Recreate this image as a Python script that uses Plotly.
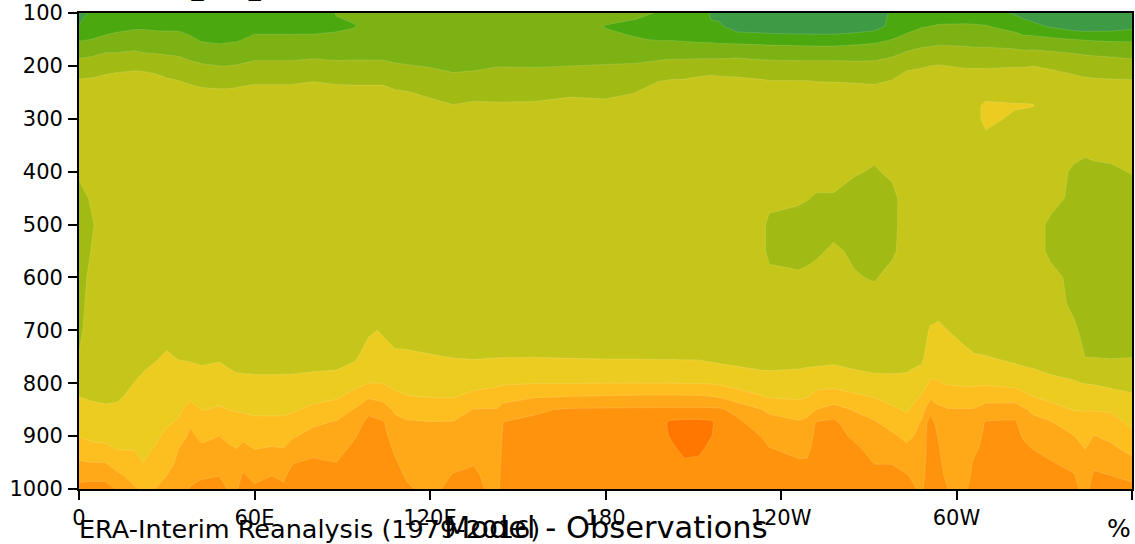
import numpy as np
import plotly.graph_objects as go

pressure = [100,125,150,175,200,225,250,275,300,350,400,450,500,550,600,650,700,750,775,800,825,850,875,900,925,950,975,1000]
M = [4.5]*8  # the flat 350-700 hPa part of a column

lon = []
cols = []
def c(x, top, mid, low):
    lon.append(x); cols.append(list(top)+list(mid)+list(low))

c(0,[0.3,1.1,1.9,2.7,3.4,4.0,4.5,4.5,4.5],[4.5,4.2,3.6,3.7,3.7,3.7,3.7,3.8],[4.05,4.4,4.7,5.0,5.3,5.65,5.97,6.5,7.1,7.7,8.3])
c(4,[1.3,1.5,2.0,2.8,3.45,4.05,4.5,4.5,4.5],[4.5,4.5,4.1,3.85,4.0,4.15,4.3,4.4],[4.5,4.6,4.75,4.9,5.2,5.5,5.8,6.3,7.0,7.7,8.4])
c(9,[1.3,1.6,2.2,3.0,3.6,4.2,4.5,4.5,4.5],M,[4.55,4.6,4.7,4.8,5.15,5.45,5.75,6.2,7.0,7.7,8.4])
c(13,[1.3,1.7,2.35,3.0,3.7,4.3,4.5,4.5,4.5],M,[4.55,4.6,4.65,4.88,5.15,5.43,5.7,5.98,6.6,7.2,7.9])
c(19,[1.3,1.85,2.45,3.1,3.8,4.35,4.5,4.5,4.5],M,[4.6,4.8,5.02,5.2,5.4,5.6,5.8,5.98,6.3,6.7,7.1])
c(22,[1.3,1.85,2.45,3.0,3.75,4.35,4.5,4.5,4.5],M,[4.75,4.98,5.12,5.27,5.41,5.56,5.7,5.85,6.0,6.4,6.9])
c(26,[1.3,1.8,2.4,2.95,3.65,4.25,4.5,4.5,4.5],[4.5]*7+[4.6],[4.93,5.1,5.25,5.4,5.55,5.72,5.87,6.06,6.37,6.7,7.0])
c(30,[1.3,1.8,2.35,2.9,3.45,4.05,4.45,4.5,4.5],[4.5]*7+[4.75],[5.08,5.25,5.42,5.58,5.75,5.92,6.14,6.43,6.72,7.0,7.3])
c(34,[1.3,1.8,2.35,2.85,3.4,3.95,4.4,4.5,4.5],[4.5]*7+[4.65],[4.95,5.17,5.39,5.6,5.83,6.09,6.55,7.0,7.15,7.35,7.55])
c(38,[1.3,1.65,2.15,2.7,3.2,3.8,4.3,4.5,4.5],[4.5]*7+[4.6],[4.87,5.2,5.53,5.85,6.33,6.9,7.18,7.4,7.6,7.83,8.05])
c(42,[1.2,1.5,1.9,2.5,3.1,3.65,4.2,4.5,4.5],[4.5]*7+[4.6],[4.8,5.1,5.4,5.68,5.97,6.37,6.8,7.17,7.55,7.92,8.2])
c(48,[1.2,1.45,1.8,2.4,3.0,3.6,4.15,4.5,4.5],[4.5]*7+[4.6],[4.88,5.18,5.48,5.77,6.1,6.55,7.0,7.33,7.66,7.99,8.3])
c(51,[1.2,1.45,1.85,2.45,3.0,3.6,4.15,4.5,4.5],M,[4.75,5.05,5.38,5.7,6.0,6.45,6.85,7.12,7.4,7.7,7.95])
c(54,[1.2,1.5,1.9,2.5,3.05,3.65,4.2,4.5,4.5],M,[4.6,4.93,5.27,5.6,5.93,6.3,6.66,7.02,7.33,7.63,7.95])
c(56,[1.25,1.55,2.0,2.55,3.1,3.7,4.25,4.5,4.5],M,[4.6,4.92,5.25,5.57,5.9,6.3,6.8,7.3,7.75,8.1,8.3])
c(60,[1.3,1.7,2.2,2.7,3.2,3.8,4.3,4.5,4.5],M,[4.6,4.9,5.2,5.52,5.83,6.2,6.6,7.0,7.38,7.77,8.15])
c(66,[1.3,1.7,2.2,2.7,3.2,3.8,4.3,4.5,4.5],M,[4.6,4.9,5.2,5.5,5.82,6.2,6.65,7.1,7.55,8.0,8.3])
c(70,[1.3,1.7,2.2,2.7,3.2,3.8,4.3,4.5,4.5],M,[4.6,4.9,5.22,5.52,5.83,6.2,6.62,7.05,7.5,7.85,8.15])
c(73,[1.3,1.7,2.2,2.7,3.2,3.8,4.3,4.5,4.5],M,[4.6,4.9,5.22,5.52,5.9,6.3,6.9,7.4,7.95,8.35,8.7])
c(80,[1.3,1.7,2.2,2.75,3.3,3.9,4.4,4.5,4.5],M,[4.55,4.95,5.35,5.73,6.2,6.85,7.3,7.73,8.15,8.4,8.7])
c(88,[2.05,1.85,2.2,2.7,3.2,3.8,4.3,4.5,4.5],M,[4.6,5.0,5.42,5.85,6.5,7.1,7.4,7.7,8.0,8.3,8.6])
c(94,[2.2,1.95,2.3,2.75,3.2,3.75,4.3,4.5,4.5],M,[4.82,5.27,5.73,6.3,7.05,7.5,7.9,8.2,8.4,8.6,8.7])
c(99,[2.3,2.35,2.5,2.75,3.2,3.75,4.3,4.5,4.5],[4.5]*7+[4.85],[5.43,5.71,6.0,6.85,7.75,8.3,8.4,8.5,8.6,8.7,8.8])
c(102,[2.3,2.35,2.5,2.75,3.2,3.75,4.3,4.5,4.5],[4.5]*7+[5.0],[5.5,5.75,6.0,6.75,7.55,8.2,8.4,8.5,8.6,8.7,8.8])
c(104,[2.3,2.35,2.5,2.75,3.2,3.75,4.3,4.5,4.5],[4.5]*7+[4.87],[5.42,5.69,5.97,6.69,7.43,8.1,8.3,8.4,8.5,8.6,8.7])
c(108,[2.3,2.35,2.5,2.65,3.1,3.6,4.1,4.5,4.5],[4.5]*7+[4.6],[5.18,5.48,5.78,6.19,6.86,7.25,7.56,7.88,8.1,8.25,8.4])
c(112,[2.3,2.35,2.45,2.6,3.05,3.55,4.05,4.5,4.5],[4.5]*7+[4.6],[5.15,5.44,5.72,6.03,6.68,7.1,7.3,7.5,7.7,7.92,8.1])
c(120,[2.3,2.35,2.45,2.6,2.95,3.37,3.8,4.26,4.5],M,[5.06,5.36,5.66,5.96,6.52,7.05,7.2,7.35,7.5,7.65,7.8])
c(128,[2.3,2.35,2.4,2.55,2.8,3.2,3.62,4.03,4.5],M,[4.97,5.3,5.62,5.94,6.53,7.07,7.3,7.55,7.8,8.05,8.2])
c(135,[2.3,2.35,2.4,2.6,2.85,3.25,3.7,4.15,4.5],M,[4.92,5.32,5.71,6.23,7.05,7.25,7.5,7.72,7.95,8.15,8.25])
c(143,[2.3,2.35,2.4,2.6,2.97,3.35,3.73,4.1,4.5],M,[4.97,5.4,5.83,6.47,7.05,7.2,7.3,7.4,7.5,7.6,7.7])
c(145,[2.3,2.35,2.4,2.6,2.97,3.35,3.73,4.1,4.5],M,[4.97,5.43,5.9,6.6,7.4,8.05,8.15,8.25,8.35,8.45,8.5])
c(156,[2.3,2.35,2.4,2.6,2.95,3.35,3.73,4.12,4.5],M,[4.98,5.48,5.98,6.9,7.9,8.15,8.25,8.35,8.45,8.5,8.55])
c(168,[2.3,2.3,2.35,2.6,3.0,3.4,3.83,4.3,4.5],M,[4.94,5.46,5.98,7.0,8.1,8.3,8.35,8.4,8.45,8.5,8.55])
c(180,[2.2,1.98,2.1,2.6,3.05,3.42,3.8,4.2,4.5],M,[4.91,5.46,6.0,7.05,8.13,8.3,8.4,8.45,8.5,8.55,8.6])
c(190,[2.2,1.8,2.05,2.55,3.1,3.45,3.98,4.4,4.5],M,[4.91,5.46,6.0,7.1,8.15,8.3,8.4,8.5,8.55,8.6,8.6])
c(198,[1.95,1.5,1.95,2.65,3.25,3.9,4.45,4.5,4.5],M,[4.89,5.44,6.0,7.12,8.15,8.5,8.6,8.7,8.75,8.8,8.8])
c(202,[1.7,1.4,1.95,2.65,3.35,3.98,4.45,4.5,4.5],M,[4.89,5.44,6.0,7.12,8.15,9.2,9.05,8.7,8.75,8.75,8.75])
c(207,[1.6,1.3,1.9,2.55,3.45,4.0,4.5,4.5,4.5],M,[4.88,5.42,5.98,7.1,8.15,9.3,9.5,9.3,8.85,8.75,8.75])
c(212,[1.6,1.3,1.85,2.5,3.6,4.1,4.5,4.5,4.5],M,[4.87,5.42,5.98,7.1,8.15,9.3,9.45,9.2,8.8,8.7,8.7])
c(216,[0.9,1.1,1.85,2.45,3.65,4.15,4.5,4.5,4.5],M,[4.77,5.35,5.93,7.0,8.18,9.2,9.05,8.7,8.6,8.55,8.55])
c(219,[0.7,1.15,1.8,2.45,3.65,4.1,4.5,4.5,4.5],M,[4.7,5.28,5.86,6.9,8.15,8.6,8.6,8.6,8.55,8.55,8.55])
c(225,[0.3,0.5,1.65,2.7,3.45,4.1,4.5,4.5,4.5],M,[4.62,5.15,5.68,6.43,7.7,8.25,8.3,8.35,8.4,8.45,8.5])
c(233,[0.3,0.4,1.6,2.6,3.35,4.0,4.45,4.5,4.5],[4.5,4.5,4.4,4.4,4.4,4.4,4.5,4.5],[4.5,5.0,5.5,6.05,7.05,7.5,8.0,8.15,8.25,8.3,8.35])
c(236,[0.3,0.35,1.55,2.6,3.3,3.95,4.4,4.5,4.5],[4.5,4.5,4.4,3.7,3.7,4.3,4.5,4.5],[4.5,4.98,5.44,5.9,6.83,7.32,7.7,8.05,8.15,8.25,8.3])
c(246,[0.2,0.3,1.5,2.55,3.3,3.95,4.45,4.5,4.5],[4.5,4.5,4.2,3.5,3.5,4.2,4.5,4.5],[4.6,5.03,5.43,5.83,6.47,7.12,7.44,7.77,8.1,8.3,8.4])
c(249,[0.2,0.3,1.5,2.55,3.3,3.95,4.45,4.5,4.5],[4.5,4.45,4.05,3.5,3.6,4.3,4.5,4.5],[4.65,5.09,5.52,5.95,6.73,7.2,7.5,7.8,8.1,8.25,8.35])
c(252,[0.2,0.3,1.45,2.55,3.3,3.9,4.4,4.5,4.5],[4.5,4.4,3.9,3.5,3.8,4.4,4.5,4.5],[4.6,5.15,5.67,6.26,7.0,8.1,8.25,8.35,8.4,8.45,8.5])
c(258,[0.2,0.3,1.45,2.55,3.3,3.9,4.35,4.5,4.5],[4.5,4.4,3.9,3.6,4.2,4.5,4.5,4.5],[4.7,5.2,5.73,6.4,7.4,8.25,8.35,8.45,8.5,8.5,8.55])
c(265,[0.2,0.4,1.6,2.55,3.25,3.85,4.35,4.5,4.5],[4.5,4.1,3.6,3.5,3.8,4.1,4.5,4.5],[4.65,5.02,5.57,6.15,6.95,7.35,7.85,8.2,8.35,8.45,8.5])
c(272,[0.3,0.6,1.75,2.6,3.25,3.8,4.3,4.5,4.5],[4.3,3.9,3.4,3.4,3.4,3.9,4.5,4.5],[4.55,4.87,5.4,5.95,6.57,7.1,7.4,7.7,7.97,8.2,8.3])
c(278,[1.2,1.3,2.0,2.8,3.4,3.97,4.45,4.5,4.5],[4.5,4.2,3.7,3.7,3.8,4.4,4.5,4.5],[4.6,4.88,5.3,5.7,6.15,6.68,7.15,7.55,7.97,8.2,8.3])
c(283,[1.3,1.6,2.35,3.07,3.8,4.35,4.5,4.5,4.5],M,[4.6,4.94,5.26,5.58,5.9,6.33,6.78,7.2,7.63,8.05,8.3])
c(288,[1.3,1.92,2.58,3.24,3.9,4.45,4.5,4.5,4.5],[4.5]*7+[4.6],[4.74,5.18,5.62,6.06,6.6,7.1,7.25,7.4,7.55,7.7,7.85])
c(291,[1.4,2.0,2.65,3.3,4.0,4.5,4.5,4.5,4.5],[4.5]*6+[4.6,5.09],[5.55,5.79,6.1,6.8,7.64,8.5,8.6,8.5,8.5,8.5,8.5])
c(294,[1.4,2.1,2.72,3.37,4.05,4.5,4.5,4.5,4.5],[4.5]*6+[4.7,5.16],[5.59,5.8,6.05,6.68,7.17,7.53,7.89,8.05,8.15,8.2,8.3])
c(297,[1.4,2.12,2.7,3.35,4.0,4.5,4.5,4.5,4.5],[4.5]*6+[4.6,5.0],[5.46,5.69,5.92,6.48,7.05,7.2,7.36,7.52,7.68,7.84,8.0])
c(303,[1.45,2.13,2.7,3.27,3.9,4.45,4.5,4.5,4.5],[4.5]*7+[4.63],[5.25,5.55,5.86,6.4,7.05,7.2,7.35,7.5,7.6,7.7,7.9])
c(306,[1.45,2.1,2.65,3.25,3.9,4.45,4.5,4.6,4.6],[4.6,4.5,4.5,4.5,4.5,4.5,4.5,4.55],[5.07,5.46,5.85,6.44,7.06,7.33,7.6,7.85,8.1,8.2,8.3])
c(310,[1.45,2.05,2.65,3.25,3.9,4.4,4.4,5.3,5.3],[4.6,4.5,4.5,4.5,4.5,4.5,4.5,4.5],[5.03,5.46,5.88,6.58,7.4,8.1,8.2,8.25,8.3,8.35,8.4])
c(320,[0.9,1.6,2.5,3.2,3.95,4.45,4.5,5.1,4.8],M,[4.75,5.24,5.73,6.48,7.55,8.15,8.3,8.35,8.4,8.45,8.5])
c(323,[0.75,1.3,2.35,3.15,3.95,4.45,4.55,5.08,4.75],M,[4.65,5.13,5.62,6.2,7.15,7.5,7.9,8.2,8.3,8.35,8.4])
c(326,[0.5,1.25,2.3,3.2,4.0,4.5,4.6,5.05,4.6],M,[4.6,5.06,5.53,6.0,6.83,7.29,7.64,8.0,8.15,8.25,8.35])
c(332,[0.3,0.9,2.2,3.1,3.85,4.45,4.55,4.6,4.55],[4.5,4.5,4.4,3.8,3.8,4.3,4.5,4.5],[4.5,4.85,5.3,5.74,6.38,7.11,7.43,7.75,8.06,8.2,8.3])
c(340,[0.2,0.5,2.0,2.96,3.63,4.2,4.5,4.5,4.5],[4.4,3.85,3.75,3.7,3.7,3.75,3.8,4.2],[4.7,4.85,5.05,5.51,5.96,6.5,7.04,7.38,7.73,8.07,8.2])
c(344,[0.2,0.4,1.95,2.9,3.5,4.08,4.5,4.5,4.5],[4.25,3.7,3.6,3.6,3.6,3.6,3.65,3.7],[3.99,4.6,4.98,5.47,5.96,6.31,6.66,7.0,7.25,7.5,7.75])
c(347,[0.2,0.45,1.9,2.85,3.48,4.05,4.5,4.5,4.5],[4.3,3.8,3.65,3.6,3.6,3.65,3.75,3.85],[3.98,4.4,4.94,5.44,5.94,6.49,7.03,7.4,7.78,8.15,8.3])
c(353,[0.2,0.5,1.85,2.8,3.4,4.0,4.5,4.5,4.5],[4.35,3.85,3.7,3.65,3.65,3.7,3.75,3.85],[3.95,4.3,4.78,5.33,5.89,6.35,6.79,7.2,7.6,8.0,8.2])
c(360,[0.2,0.75,1.85,2.68,3.37,3.98,4.48,4.5,4.5],[4.4,4.05,3.6,3.6,3.6,3.7,3.7,3.8],[3.98,4.35,4.75,5.1,5.46,5.81,6.24,6.74,7.25,7.77,8.25])

z = np.array(cols).T

band_colors = ["#3f9a45","#4ba80f","#7cb213","#a2ba14","#c6c61a","#edcc22","#fdbf1f","#ffa918","#ff930c","#ff7700"]
x_tickvals = [0,60,120,180,240,300,360]
x_ticktext = ["0","60E","120E","180","120W","60W","0"]
y_tickvals = [100,200,300,400,500,600,700,800,900,1000]

scale = []
for i, col in enumerate(band_colors):
    scale += [[i/10, col], [(i+1)/10, col]]

fig = go.Figure(go.Contour(
    x=lon, y=pressure, z=z, zmin=0, zmax=10, autocontour=False,
    contours=dict(start=1, end=9, size=1, coloring="fill", showlines=True),
    line=dict(width=0.4, color="rgba(255,255,255,0.35)", smoothing=0),
    colorscale=scale, showscale=False, hoverinfo="skip"))

font = "DejaVu Sans"
fig.update_layout(
    width=1135, height=544, autosize=False,
    margin=dict(l=79, r=1, t=12, b=55),
    paper_bgcolor="white", plot_bgcolor="white",
    font=dict(family=font, size=21, color="black"),
    showlegend=False)
fig.update_xaxes(range=[0,360], tickmode="array", tickvals=x_tickvals, ticktext=x_ticktext,
                 ticks="outside", ticklen=9, tickwidth=1.6, tickcolor="black",
                 showline=True, linewidth=1.8, linecolor="black", mirror=True,
                 showgrid=False, zeroline=False, tickangle=0)
fig.update_yaxes(range=[1000,100], tickmode="array", tickvals=y_tickvals,
                 ticks="outside", ticklen=9, tickwidth=1.6, tickcolor="black",
                 showline=True, linewidth=1.8, linecolor="black", mirror=True,
                 showgrid=False, zeroline=False, ticklabelstandoff=1)
fig.add_annotation(text="ERA-Interim Reanalysis (1979-2016)", xref="paper", yref="paper",
                   x=0, y=0, xanchor="left", yanchor="top", xshift=-1, yshift=-24, showarrow=False,
                   font=dict(size=25.5, family=font), borderpad=0)
fig.add_annotation(text="Model - Observations", xref="paper", yref="paper",
                   x=0.5, y=0, xanchor="center", yanchor="top", yshift=-20, showarrow=False,
                   font=dict(size=30.5, family=font), borderpad=0)
fig.add_annotation(text="%", xref="paper", yref="paper",
                   x=1, y=0, xanchor="right", yanchor="top", yshift=-24, showarrow=False,
                   font=dict(size=25, family=font), borderpad=0)
fig.add_annotation(text="Spectrals_hop_", xref="paper", yref="paper",
                   x=0, y=1, xanchor="left", yanchor="bottom", yshift=11, showarrow=False,
                   font=dict(size=24, family=font), borderpad=0)
fig.write_html("out.html", config={"displayModeBar": False},
               post_script="document.body.style.margin='0';document.documentElement.style.overflow='hidden';")
